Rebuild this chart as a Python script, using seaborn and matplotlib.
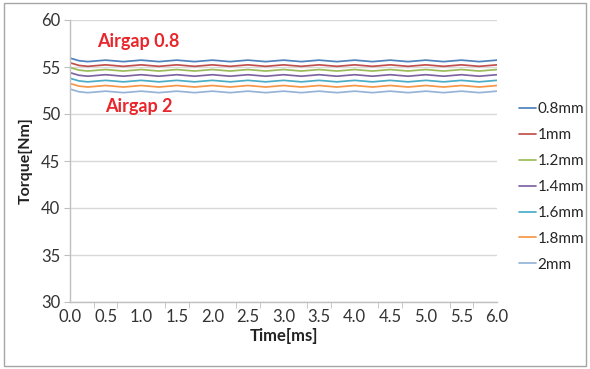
import numpy as np
import pandas as pd
import seaborn as sns
import matplotlib.pyplot as plt
from matplotlib.patches import Rectangle
from matplotlib.ticker import MultipleLocator

# sample times [ms]
time_ms = [round(0.125 * i, 3) for i in range(49)]

# torque ripple around the mean (same shape for every airgap)
ripple = [0.30, 0.02, -0.08, 0.00, 0.08, 0.00, -0.08, 0.00, 0.08, 0.00,
          -0.08, 0.00, 0.08, 0.00, -0.08, 0.00, 0.08, 0.00, -0.08, 0.00,
          0.08, 0.00, -0.08, 0.00, 0.08, 0.00, -0.08, 0.00, 0.08, 0.00,
          -0.08, 0.00, 0.08, 0.00, -0.08, 0.00, 0.08, 0.00, -0.08, 0.00,
          0.08, 0.00, -0.08, 0.00, 0.08, 0.00, -0.08, 0.00, 0.08]

airgaps = ["0.8mm", "1mm", "1.2mm", "1.4mm", "1.6mm", "1.8mm", "2mm"]
mean_torque = [55.65, 55.15, 54.65, 54.1, 53.5, 52.95, 52.35]
colors = ["#4F81BD", "#C0504D", "#9BBB59", "#8064A2", "#4BACC6", "#F79646", "#95B3D7"]

rows = []
for gap, mean in zip(airgaps, mean_torque):
    for t, r in zip(time_ms, ripple):
        rows.append({"Time": t, "Torque": mean + r, "Airgap": gap})
df = pd.DataFrame(rows)

sns.set_style("white")
plt.rcParams["font.family"] = ["Lato", "DejaVu Sans"]

fig = plt.figure(figsize=(5.9, 3.69), dpi=100)
ax = fig.add_axes([70 / 590, 67 / 369, 427 / 590, 282 / 369])

sns.lineplot(data=df, x="Time", y="Torque", hue="Airgap", hue_order=airgaps,
             palette=colors, linewidth=1.25, ax=ax)

ax.set_xlim(0, 6)
ax.set_ylim(30, 60)
ax.xaxis.set_major_locator(MultipleLocator(0.5))
ax.xaxis.set_minor_locator(MultipleLocator(1 / 3))
ax.yaxis.set_major_locator(MultipleLocator(5))
ax.xaxis.set_major_formatter(lambda v, p: f"{v:.1f}")

ax.grid(axis="y", color="#D9D9D9", linewidth=1)
ax.set_axisbelow(True)
for side in ["top", "right"]:
    ax.spines[side].set_visible(False)
for side in ["left", "bottom"]:
    ax.spines[side].set_color("#BFBFBF")
    ax.spines[side].set_linewidth(1)

ax.tick_params(axis="x", which="major", length=0, labelsize=12, colors="#333333", pad=5)
ax.tick_params(axis="x", which="minor", length=4, color="#BFBFBF", direction="out", bottom=True)
ax.tick_params(axis="y", length=4, color="#BFBFBF", direction="out", left=True,
               labelsize=12, labelcolor="#333333", pad=3)

ax.set_xlabel("Time[ms]", fontsize=12, fontweight="bold", color="#222222", labelpad=2)
ax.set_ylabel("Torque[Nm]", fontsize=11.5, fontweight="bold", color="#222222", labelpad=6)

ax.text(0.38, 57.7, "Airgap 0.8", color="#E8262C", fontsize=13, fontweight="bold", va="center")
ax.text(0.49, 50.8, "Airgap 2", color="#E8262C", fontsize=13, fontweight="bold", va="center")

ax.legend(loc="center left", bbox_to_anchor=(513 / 590, 182 / 369),
          bbox_transform=fig.transFigure, frameon=False, fontsize=11,
          handlelength=1.1, handletextpad=0.1, labelspacing=0.78, borderaxespad=0)

fig.patches.append(Rectangle((0.006, 0.008), 0.988, 0.984, transform=fig.transFigure,
                             fill=False, edgecolor="#A6A6A6", linewidth=1))

fig.savefig("out.png", dpi=100)
